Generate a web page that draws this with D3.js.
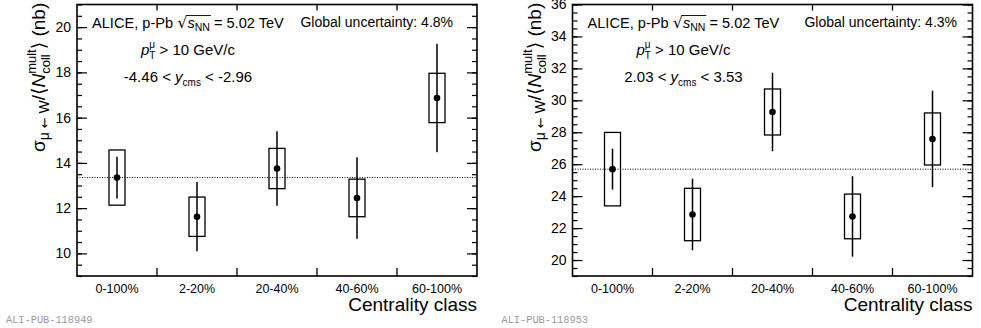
<!DOCTYPE html>
<html>
<head>
<meta charset="utf-8">
<script src="https://cdn.jsdelivr.net/npm/d3@7"></script>
<style>
  body { margin: 0; background: #fff; }
  svg { display: block; font-family: "Liberation Sans", Arial, sans-serif; }
</style>
</head>
<body>
<svg id="chart" width="981" height="328"></svg>
<script>
// centrality classes (same for both panels)
const categories = ["0-100%", "2-20%", "20-40%", "40-60%", "60-100%"];

// backward rapidity (-4.46 < y < -2.96)
const bwdValues = [13.35, 11.62, 13.75, 12.45, 16.87];
const bwdStat = [0.92, 1.53, 1.65, 1.80, 2.40];
const bwdSyst = [1.22, 0.87, 0.89, 0.83, 1.09];
const bwdTicks = [10, 12, 14, 16, 18, 20];

// forward rapidity (2.03 < y < 3.53)
const fwdValues = [25.69, 22.85, 29.27, 22.73, 27.58];
const fwdStat = [1.28, 2.24, 2.46, 2.52, 3.02];
const fwdSyst = [2.30, 1.64, 1.44, 1.40, 1.63];
const fwdTicks = [20, 22, 24, 26, 28, 30, 32, 34, 36];

const svg = d3.select("#chart");

// lays out a run of text pieces left to right, measuring each one
// piece: {t, size, italic, dy, font} or {sup, sub, size} for stacked scripts
function richText(g, parts, baseSize) {
  let x = 0;
  parts.forEach(p => {
    if (p.sup !== undefined) {
      const a = g.append("text").attr("x", x).attr("y", -baseSize * 0.47)
        .attr("font-size", p.size).text(p.sup);
      const b = g.append("text").attr("x", x).attr("y", baseSize * 0.27)
        .attr("font-size", p.size).text(p.sub);
      x += Math.max(a.node().getComputedTextLength(), b.node().getComputedTextLength());
      return;
    }
    const t = g.append("text").attr("x", x).attr("y", p.dy || 0)
      .attr("font-size", p.size || baseSize)
      .attr("font-style", p.italic ? "italic" : null)
      .attr("font-family", p.font || null)
      .style("white-space", "pre")
      .text(p.t);
    p.x0 = x;
    x += t.node().getComputedTextLength();
    p.x1 = x;
  });
  return x;
}

function drawPanel(opts) {
  const left = opts.left, right = opts.left + 400, top = 4.5, bottom = 276;
  const g = svg.append("g");

  const x = d3.scaleBand().domain(categories).range([left, right]).padding(0);
  const y = d3.scaleLinear().domain(opts.domain).range([bottom, top]);
  const minor = d3.range(opts.domain[0], opts.domain[1] + 0.001, 0.5);

  // y axis, ROOT style inner ticks, left and right
  g.append("g").attr("transform", `translate(${left},0)`)
    .call(d3.axisLeft(y).tickValues(minor).tickSize(-5).tickFormat(""))
    .call(a => a.select(".domain").remove());
  g.append("g").attr("transform", `translate(${left},0)`)
    .call(d3.axisLeft(y).tickValues(opts.ticks).tickSize(-10).tickPadding(6).tickFormat(d3.format("d")))
    .call(a => a.select(".domain").remove())
    .call(a => a.selectAll("text").attr("font-size", 14).attr("font-family", "Liberation Sans"));
  g.append("g").attr("transform", `translate(${right},0)`)
    .call(d3.axisRight(y).tickValues(minor).tickSize(-5).tickFormat(""))
    .call(a => a.select(".domain").remove());
  g.append("g").attr("transform", `translate(${right},0)`)
    .call(d3.axisRight(y).tickValues(opts.ticks).tickSize(-10).tickFormat(""))
    .call(a => a.select(".domain").remove());
  g.selectAll(".tick line").attr("stroke-width", 1.2);

  // x axis labels at bin centres
  g.append("g").attr("transform", `translate(0,${bottom})`)
    .call(d3.axisBottom(x).tickSize(0).tickPadding(8))
    .call(a => a.select(".domain").remove())
    .call(a => a.selectAll("text").attr("font-size", 12.5).attr("font-family", "Liberation Sans"));

  // bin edge ticks, bottom and top
  const edges = categories.slice(1).map(c => x(c));
  g.selectAll(".edgeB").data(edges).enter().append("line")
    .attr("x1", d => d).attr("x2", d => d)
    .attr("y1", bottom).attr("y2", bottom - 8)
    .attr("stroke", "#000").attr("stroke-width", 1.3);
  g.selectAll(".edgeT").data(edges).enter().append("line")
    .attr("x1", d => d).attr("x2", d => d)
    .attr("y1", top).attr("y2", top + 6)
    .attr("stroke", "#000").attr("stroke-width", 1.3);

  // reference line at the 0-100% value
  g.append("line")
    .attr("x1", left).attr("x2", right)
    .attr("y1", y(opts.values[0])).attr("y2", y(opts.values[0]))
    .attr("stroke", "#000").attr("stroke-width", 1).attr("stroke-dasharray", "1,1.5");

  const bw = x.bandwidth() * 0.2;
  const cx = i => x(categories[i]) + x.bandwidth() / 2;

  // systematic boxes
  g.selectAll(".syst").data(opts.values).enter().append("rect")
    .attr("x", (d, i) => cx(i) - bw / 2)
    .attr("width", bw)
    .attr("y", (d, i) => y(d + opts.syst[i]))
    .attr("height", (d, i) => y(d - opts.syst[i]) - y(d + opts.syst[i]))
    .attr("fill", "none").attr("stroke", "#000").attr("stroke-width", 1.3);

  // statistical errors
  g.selectAll(".stat").data(opts.values).enter().append("line")
    .attr("x1", (d, i) => cx(i)).attr("x2", (d, i) => cx(i))
    .attr("y1", (d, i) => y(d + opts.stat[i]))
    .attr("y2", (d, i) => y(d - opts.stat[i]))
    .attr("stroke", "#000").attr("stroke-width", 1.5);

  g.selectAll(".pt").data(opts.values).enter().append("circle")
    .attr("cx", (d, i) => cx(i)).attr("cy", d => y(d)).attr("r", 3.3)
    .attr("fill", "#000");

  // frame
  g.append("rect")
    .attr("x", left).attr("y", top)
    .attr("width", right - left).attr("height", bottom - top)
    .attr("fill", "none").attr("stroke", "#000").attr("stroke-width", 1.6);

  // y axis title, rotated
  const tg = g.append("g").attr("font-size", 19);
  richText(tg, [
    { t: "σ" },
    { t: "μ ", size: 14, dy: 4 },
    { t: "←", size: 13, dy: 4, font: "DejaVu Sans" },
    { t: " W", size: 14, dy: 4 },
    { t: "/" },
    { t: "⟨", font: "DejaVu Sans" },
    { t: "N", italic: true },
    { sup: "mult", sub: "coll", size: 13 },
    { t: "⟩", font: "DejaVu Sans" },
    { t: " (nb)" }
  ], 19);
  tg.attr("transform", `translate(${left - 32},152) rotate(-90)`);

  // x axis title
  g.append("text")
    .attr("x", right).attr("y", 311)
    .attr("text-anchor", "end").attr("font-size", 19)
    .text("Centrality class");

  // legend / info text
  const l1 = g.append("g").attr("transform", `translate(${left + 15},28)`);
  const p1 = [
    { t: "ALICE, p-Pb " },
    { t: "√", size: 16, font: "DejaVu Sans" },
    { t: "s", italic: true },
    { t: "NN", size: 10.5, dy: 3 },
    { t: " = 5.02 TeV" }
  ];
  richText(l1, p1, 14.6);
  l1.append("line")
    .attr("x1", p1[1].x1 - 1).attr("x2", p1[3].x1 + 1)
    .attr("y1", -12.5).attr("y2", -12.5)
    .attr("stroke", "#000").attr("stroke-width", 0.9);

  g.append("text")
    .attr("x", opts.globalX).attr("y", 27)
    .attr("text-anchor", "end").attr("font-size", 14)
    .text(opts.global);

  const mid = left + 111;
  const l2 = g.append("g");
  const w2 = richText(l2, [
    { t: "p", italic: true },
    { sup: "μ", sub: "T", size: 10 },
    { t: " > 10 GeV/c" }
  ], 15);
  l2.attr("transform", `translate(${mid - w2 / 2},55)`);

  const l3 = g.append("g");
  const w3 = richText(l3, [
    { t: opts.yRange[0] + " < " },
    { t: "y", italic: true },
    { t: "cms", size: 10, dy: 3.5 },
    { t: " < " + opts.yRange[1] }
  ], 15);
  l3.attr("transform", `translate(${mid - w3 / 2},82)`);

  // publication id
  svg.append("text")
    .attr("x", opts.left - 71).attr("y", 323)
    .attr("font-family", "Liberation Mono").attr("font-size", 10.3)
    .attr("fill", "#999")
    .text(opts.pub);
}

drawPanel({
  left: 77, domain: [9, 21], ticks: bwdTicks,
  values: bwdValues, stat: bwdStat, syst: bwdSyst,
  global: "Global uncertainty: 4.8%", globalX: 453, yRange: ["-4.46", "-2.96"],
  pub: "ALI-PUB-118949"
});
drawPanel({
  left: 572.5, domain: [19, 36], ticks: fwdTicks,
  values: fwdValues, stat: fwdStat, syst: fwdSyst,
  global: "Global uncertainty: 4.3%", globalX: 957, yRange: ["2.03", "3.53"],
  pub: "ALI-PUB-118953"
});
</script>
</body>
</html>
